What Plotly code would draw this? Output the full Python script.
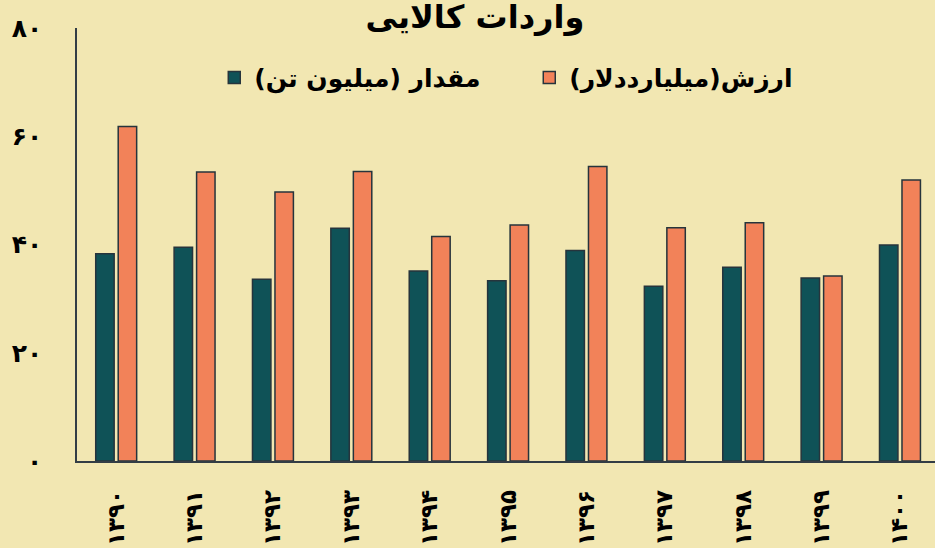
import plotly.graph_objects as go

years = ["۱۳۹۰", "۱۳۹۱", "۱۳۹۲", "۱۳۹۳", "۱۳۹۴", "۱۳۹۵", "۱۳۹۶", "۱۳۹۷", "۱۳۹۸", "۱۳۹۹", "۱۴۰۰"]
quantity = [38.3, 39.5, 33.6, 43.0, 35.1, 33.3, 38.9, 32.3, 35.8, 33.8, 39.9]
value = [61.8, 53.4, 49.7, 53.5, 41.5, 43.6, 54.4, 43.1, 44.0, 34.2, 51.9]
y_ticks = [0, 20, 40, 60, 80]
y_tick_text = ["۰", "۲۰", "۴۰", "۶۰", "۸۰"]

name_quantity = "مقدار (میلیون تن)\u200f"
name_value = "ارزش(میلیارددلار)\u200f"
title_text = "واردات کالایی"

BG = "#F2E7B2"
TEAL = "#0F5257"
ORANGE = "#F28259"
OUTLINE = "#26343C"
FONT = "DejaVu Sans"

fig = go.Figure()
fig.add_trace(go.Bar(x=years, y=quantity, name=name_quantity,
                     marker=dict(color=TEAL, line=dict(color=OUTLINE, width=1.5))))
fig.add_trace(go.Bar(x=years, y=value, name=name_value,
                     marker=dict(color=ORANGE, line=dict(color=OUTLINE, width=1.5))))

fig.update_layout(
    width=935, height=548,
    paper_bgcolor=BG, plot_bgcolor=BG,
    margin=dict(l=77, r=0, t=28, b=87, autoexpand=False),
    barmode="group", bargap=0.426, bargroupgap=0.18,
    font=dict(family=FONT, color="black"),
    title=dict(text=title_text, x=0.508, xanchor="center",
               y=0.99, yanchor="top",
               font=dict(size=32, family=FONT, color="black", weight="bold")),
    showlegend=True,
    legend=dict(orientation="h", x=0.160, xanchor="left", y=0.885, yanchor="middle",
                bgcolor="rgba(0,0,0,0)",
                font=dict(size=25, family=FONT, color="black", weight="bold"),
                entrywidth=270, entrywidthmode="pixels"),
    xaxis=dict(type="category", range=[-0.5, 10.447], showline=True, linecolor="#333D45",
               linewidth=1.5, showgrid=False, ticks="", tickangle=-90,
               ticklabelstandoff=18, automargin=False,
               tickfont=dict(size=23, family=FONT, color="black", weight="bold")),
    yaxis=dict(range=[0, 80], tickvals=y_ticks, ticktext=y_tick_text, showline=True,
               linecolor="#333D45", linewidth=1.5, showgrid=False, zeroline=False,
               ticks="", ticklabelstandoff=28, automargin=False,
               tickfont=dict(size=25, family=FONT, color="black", weight="bold")),
)
fig.update_traces(hoverinfo="skip")

fig.write_html("out.html", config={"displayModeBar": False},
               post_script="document.body.style.margin='0';document.body.style.overflow='hidden';")
